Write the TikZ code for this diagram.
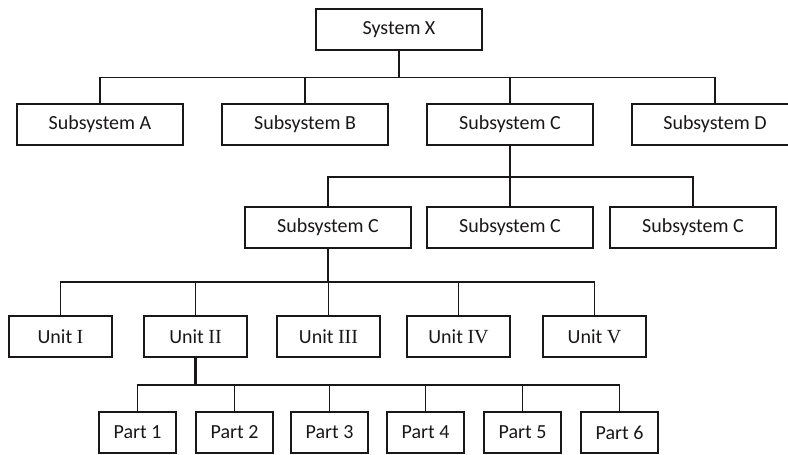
\documentclass[tikz,border=0pt]{standalone}
\usepackage{fontspec}
\setmainfont{Carlito}
\newfontfamily\romfont{Liberation Serif}
\definecolor{ink}{HTML}{1A1718}
\begin{document}
\begin{tikzpicture}[x=1bp,y=-1bp,
  box/.style={draw=ink, line width=2bp, fill=white, inner sep=0pt, minimum height=41bp,
    font=\fontsize{20bp}{24bp}\selectfont, text=ink},
  sbox/.style={box, minimum width=166bp},
  ubox/.style={box, minimum width=103bp},
  pbox/.style={box, minimum width=77bp},
  conn/.style={draw=ink, line width=1.7bp},
  trunk/.style={draw=ink, line width=2.5bp}]
\clip (0,0) rectangle (788,455);
\fill[white] (0,0) rectangle (788,455);

% level 0
\node[sbox] (sx) at (399,29.5) {System X};
% level 1
\node[sbox] (sa) at (100,124.5) {Subsystem A};
\node[sbox] (sb) at (305,124.5) {Subsystem B};
\node[sbox] (sc) at (510,124.5) {Subsystem C};
\node[sbox] (sd) at (715,124.5) {Subsystem D};
% level 2
\node[sbox] (c1) at (328,227.5) {Subsystem C};
\node[sbox] (c2) at (510,227.5) {Subsystem C};
\node[sbox] (c3) at (693,227.5) {Subsystem C};
% level 3
\node[ubox] (u1) at (60.5,336.5) {Unit {\romfont I}};
\node[ubox] (u2) at (195.5,336.5) {Unit {\romfont II}};
\node[ubox] (u3) at (328.5,336.5) {Unit {\romfont III}};
\node[ubox] (u4) at (458.5,336.5) {Unit {\romfont IV}};
\node[ubox] (u5) at (594.5,336.5) {Unit {\romfont V}};
% level 4
\node[pbox] (p1) at (137.5,432.5) {Part 1};
\node[pbox] (p2) at (234.5,432.5) {Part 2};
\node[pbox] (p3) at (329.5,432.5) {Part 3};
\node[pbox] (p4) at (425.5,432.5) {Part 4};
\node[pbox] (p5) at (522.5,432.5) {Part 5};
\node[pbox] (p6) at (619.5,432.5) {Part 6};

% junctions
\coordinate (j1) at (399,77.5);
\coordinate (j2) at (510,177);
\coordinate (j3) at (328,282);
\coordinate (j4) at (195.5,385);

% level 0 -> 1
\draw[trunk] (sx.south) -- (j1);
\draw[conn] (sa.north) |- (j1) -| (sd.north);
\draw[conn] (sb.north) -- (sb.north |- j1);
\draw[conn] (sc.north) -- (sc.north |- j1);
% level 1 -> 2
\draw[trunk] (sc.south) -- (j2);
\draw[conn] (c1.north) |- (j2) -| (c3.north);
\draw[conn] (c2.north) -- (j2);
% level 2 -> 3
\draw[trunk] (c1.south) -- (j3);
\draw[conn] (u1.north) |- (j3) -| (u5.north);
\draw[conn] (u2.north) -- (u2.north |- j3);
\draw[conn] (u3.north) -- (u3.north |- j3);
\draw[conn] (u4.north) -- (u4.north |- j3);
% level 3 -> 4
\draw[trunk] (u2.south) -- (j4);
\draw[conn] (p1.north) |- (j4) -| (p6.north);
\draw[conn] (p2.north) -- (p2.north |- j4);
\draw[conn] (p3.north) -- (p3.north |- j4);
\draw[conn] (p4.north) -- (p4.north |- j4);
\draw[conn] (p5.north) -- (p5.north |- j4);
\end{tikzpicture}
\end{document}
